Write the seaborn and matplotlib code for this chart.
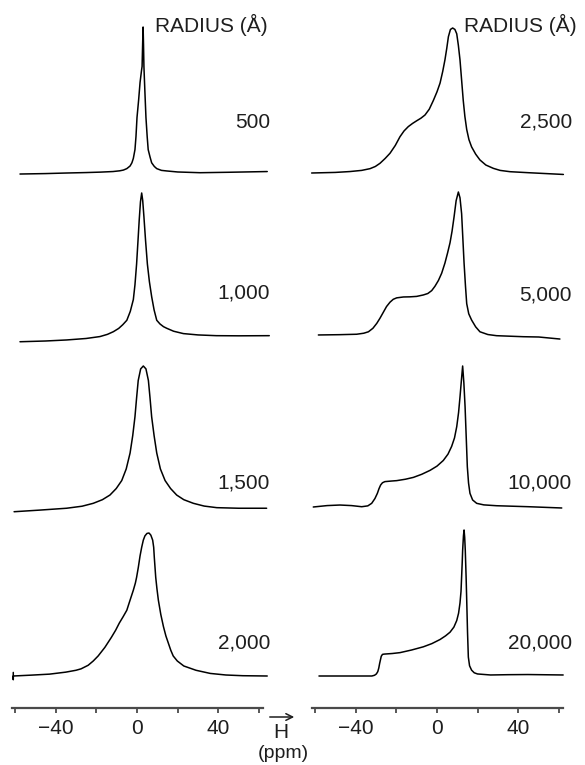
import matplotlib
matplotlib.use("Agg")
import matplotlib.pyplot as plt
from matplotlib.patches import FancyArrowPatch
import seaborn as sns

# --- data (ppm, relative intensity) ---
radius_left = ["500", "1,000", "1,500", "2,000"]
radius_right = ["2,500", "5,000", "10,000", "20,000"]

ppm_500 = [-57.5, -45, -34.4, -25, -18, -11.8, -8.5, -6.7, -5.0, -3.4, -2.5, -1.8, -1.0, -0.5, 0.0, 0.8, 1.5,
           2.2, 2.5, 2.8, 3.0, 3.2, 3.4, 3.9, 4.4, 5.0, 5.5, 6.4, 7.2, 8.5, 9.7, 12, 14.6, 20, 31, 45, 64]
int_500 = [-0.007, -0.004, 0.0, 0.003, 0.006, 0.01, 0.015, 0.02, 0.03, 0.048, 0.07, 0.10, 0.16, 0.25, 0.38, 0.50,
           0.62, 0.70, 0.73, 0.90, 1.0, 0.88, 0.73, 0.55, 0.38, 0.25, 0.16, 0.11, 0.07, 0.045, 0.03, 0.018, 0.014,
           0.007, 0.002, 0.005, 0.01]

ppm_1000 = [-57.5, -45, -34.6, -25, -18.2, -14.5, -11.6, -9, -7, -5.0, -3.3, -1.8, -1.0, -0.2, 0.5, 1.1, 1.7, 2.3,
            2.8, 3.4, 4.2, 5.1, 6.1, 7.2, 8.4, 9.7, 11.3, 13, 14.6, 18, 22.8, 30, 39, 50, 65]
int_1000 = [-0.005, 0.0, 0.007, 0.017, 0.03, 0.045, 0.063, 0.085, 0.11, 0.14, 0.20, 0.28, 0.38, 0.52, 0.68, 0.82,
            0.94, 1.0, 0.95, 0.84, 0.68, 0.52, 0.40, 0.30, 0.21, 0.14, 0.115, 0.097, 0.086, 0.066, 0.05, 0.041,
            0.036, 0.035, 0.036]

ppm_1500 = [-60.4, -48, -34.6, -27, -21.5, -17, -13.3, -10.2, -7.5, -5.3, -3.4, -2.1, -1.0, -0.2, 0.6, 1.8, 3.1,
            4.4, 5.6, 6.4, 7.2, 8.4, 9.7, 11.5, 13.8, 16.5, 19.5, 23, 27.7, 33, 39.2, 50, 63.7]
int_1500 = [-0.005, 0.006, 0.019, 0.033, 0.053, 0.078, 0.11, 0.155, 0.21, 0.29, 0.40, 0.52, 0.65, 0.78, 0.90,
            0.98, 1.0, 0.98, 0.90, 0.78, 0.65, 0.52, 0.40, 0.29, 0.21, 0.155, 0.11, 0.078, 0.053, 0.034, 0.023,
            0.019, 0.019]

ppm_2000 = [-60.8, -60.8, -60.8, -52, -43, -35, -30, -27.5, -24, -21.5, -19.1, -15.8, -12.6, -10.5, -8.7, -6.8,
            -5.0, -4.1, -3.3, -1.8, -0.8, -0.2, 0.65, 1.5, 2.3, 3.1, 3.9, 4.9, 5.9, 6.8, 7.7, 8.2, 8.5, 9.2, 9.8,
            10.5, 11.7, 13.0, 14.2, 15.4, 16.6, 17.8, 19.8, 23, 29, 36, 43.7, 52, 64]
int_2000 = [0.025, -0.025, 0.0, 0.006, 0.013, 0.027, 0.04, 0.05, 0.075, 0.105, 0.14, 0.20, 0.27, 0.32, 0.37, 0.415,
            0.46, 0.50, 0.535, 0.60, 0.65, 0.69, 0.76, 0.84, 0.90, 0.95, 0.98, 0.997, 1.0, 0.985, 0.95, 0.90, 0.83,
            0.69, 0.61, 0.53, 0.43, 0.345, 0.28, 0.23, 0.18, 0.14, 0.105, 0.07, 0.04, 0.018, 0.007, 0.002, 0.0]

ppm_2500 = [-61.6, -50, -42.8, -37, -32.9, -30.3, -28.0, -25.5, -23.1, -20.5, -18.2, -16.2, -14.1, -12, -10.0,
            -7.9, -5.9, -3.8, -1.8, 0, 1.5, 2.8, 3.9, 4.8, 5.6, 6.6, 7.7, 8.8, 9.7, 10.5, 11.3, 12.1, 12.9, 13.7,
            14.6, 15.7, 17.0, 19, 21.1, 24, 27.7, 31, 35.9, 45, 62.1]
int_2500 = [0.0, 0.004, 0.01, 0.018, 0.03, 0.045, 0.067, 0.10, 0.136, 0.19, 0.25, 0.29, 0.32, 0.342, 0.36, 0.378,
            0.40, 0.44, 0.50, 0.56, 0.62, 0.70, 0.78, 0.86, 0.94, 0.99, 1.0, 0.99, 0.96, 0.88, 0.78, 0.64, 0.50,
            0.39, 0.30, 0.23, 0.18, 0.13, 0.09, 0.055, 0.032, 0.018, 0.009, 0.002, -0.01]

ppm_5000 = [-58.3, -48, -39.5, -36, -33.7, -31.5, -29.6, -28, -26.4, -24.8, -23.1, -21.5, -19.8, -16.5, -13.3,
            -10, -6.7, -4.5, -2.6, -1, 0.7, 2.3, 3.9, 5.2, 6.4, 7.4, 8.4, 9.4, 10.5, 11.3, 12.1, 12.7, 13.3, 14.0,
            14.6, 15.6, 17.0, 19, 21.1, 25, 29.3, 42.4, 50, 60.4]
int_5000 = [0.014, 0.016, 0.019, 0.026, 0.036, 0.06, 0.094, 0.13, 0.17, 0.21, 0.24, 0.26, 0.27, 0.276, 0.277,
            0.28, 0.29, 0.30, 0.32, 0.35, 0.39, 0.44, 0.51, 0.58, 0.65, 0.73, 0.83, 0.94, 1.0, 0.96, 0.85, 0.68,
            0.51, 0.35, 0.23, 0.16, 0.117, 0.07, 0.036, 0.017, 0.009, 0.002, 0.0, -0.014]

ppm_10000 = [-60.8, -54, -47.7, -42, -37.0, -34, -32.1, -30.5, -29.3, -28.5, -27.7, -26.8, -25.6, -22.5, -19.8,
             -15.5, -11.6, -7.5, -3.4, 0, 3.1, 5.4, 7.2, 8.6, 9.7, 10.6, 11.3, 12.0, 12.6, 13.2, 13.8, 14.4, 14.9,
             15.5, 16.2, 17.5, 19.5, 23, 29.3, 45, 61.3]
int_10000 = [0.0, 0.01, 0.014, 0.01, 0.002, 0.008, 0.026, 0.06, 0.097, 0.13, 0.156, 0.172, 0.18, 0.184, 0.187,
             0.197, 0.21, 0.232, 0.26, 0.29, 0.33, 0.375, 0.43, 0.49, 0.57, 0.67, 0.78, 0.90, 1.0, 0.88, 0.71,
             0.48, 0.286, 0.17, 0.097, 0.05, 0.026, 0.015, 0.009, 0.002, -0.007]

ppm_20000 = [-58.0, -45, -32.0, -30.7, -29.8, -29.1, -28.6, -28.2, -27.8, -27.4, -26.8, -26.0, -22, -18.2, -12.5,
             -6.7, -2.5, 1.5, 4.2, 6.4, 8.3, 9.7, 10.6, 11.3, 11.8, 12.1, 12.4, 12.6, 13.0, 13.3, 13.6, 13.9, 14.3,
             14.6, 15.0, 15.4, 16.0, 17.0, 18.3, 19.9, 26.3, 35, 44.7, 62.0]
int_20000 = [0.0, 0.0, 0.0, 0.005, 0.014, 0.03, 0.055, 0.085, 0.11, 0.135, 0.148, 0.15, 0.154, 0.16, 0.178, 0.20,
             0.222, 0.25, 0.275, 0.30, 0.335, 0.38, 0.43, 0.50, 0.58, 0.68, 0.78, 0.86, 0.96, 1.0, 0.95, 0.86, 0.68,
             0.52, 0.30, 0.13, 0.07, 0.04, 0.022, 0.014, 0.007, 0.009, 0.01, 0.007]

tick_values = [-60, -40, -20, 0, 20, 40, 60]
tick_labels = ["", "\u221240", "", "0", "", "40", ""]

# --- layout (pixels of the 585x765 picture) ---
W, H = 585, 765
XLIM = (-61.5, 62.0)
PX_PER_PPM = 2.035
ZERO_X = {"left": 137, "right": 437}
# (baseline y, top y) of each spectrum row
ROWS_LEFT = [(173, 27), (341, 193), (511, 366), (676, 533)]
ROWS_RIGHT = [(173, 28), (337, 192), (507, 366), (676, 530)]
LABEL_Y_LEFT = [122, 293, 483, 643]
LABEL_Y_RIGHT = [122, 295, 483, 643]
AXIS_Y = 708
FONT = 15
INK = "#1e1e1e"


def fx(px):
    return px / W


def fy(py):
    return 1 - py / H


def col_extent(col):
    x0 = ZERO_X[col] + XLIM[0] * PX_PER_PPM
    x1 = ZERO_X[col] + XLIM[1] * PX_PER_PPM
    return x0, x1


def draw_spectrum(fig, col, row, ppm, inten):
    x0, x1 = col_extent(col)
    y_base, y_top = row
    ax = fig.add_axes([fx(x0), fy(y_base), (x1 - x0) / W, (y_base - y_top) / H])
    sns.lineplot(x=ppm, y=inten, ax=ax, color="black", linewidth=1.1,
                 estimator=None, sort=False)
    for ln in ax.lines:
        ln.set_clip_on(False)
        ln.set_solid_joinstyle("round")
    ax.set_xlim(*XLIM)
    ax.set_ylim(0, 1)
    ax.axis("off")
    return ax


def draw_scale(fig, col):
    x0, x1 = col_extent(col)
    ax = fig.add_axes([fx(x0), fy(AXIS_Y), (x1 - x0) / W, 0.0005])
    ax.set_xlim(*XLIM)
    ax.set_yticks([])
    for side in ["top", "left", "right"]:
        ax.spines[side].set_visible(False)
    ax.spines["bottom"].set_color("#4a4a4a")
    ax.spines["bottom"].set_linewidth(1.6)
    ax.set_xticks(tick_values)
    ax.set_xticklabels(tick_labels)
    ax.tick_params(axis="x", bottom=True, direction="out", length=3.8, width=1.3,
                   color="#4a4a4a", pad=4, labelsize=FONT, labelcolor=INK)
    ax.set_facecolor("none")
    return ax


def main():
    sns.set_theme(style="white")
    plt.rcParams["font.family"] = ["Liberation Sans", "DejaVu Sans"]

    fig = plt.figure(figsize=(W / 100, H / 100), dpi=100)

    left_data = [(ppm_500, int_500), (ppm_1000, int_1000), (ppm_1500, int_1500), (ppm_2000, int_2000)]
    right_data = [(ppm_2500, int_2500), (ppm_5000, int_5000), (ppm_10000, int_10000), (ppm_20000, int_20000)]

    for row, (p, i) in zip(ROWS_LEFT, left_data):
        draw_spectrum(fig, "left", row, p, i)
    for row, (p, i) in zip(ROWS_RIGHT, right_data):
        draw_spectrum(fig, "right", row, p, i)

    txt = dict(fontsize=FONT, color=INK, va="center", ha="right")
    fig.text(fx(268), fy(25), "RADIUS (\u00c5)", **txt)
    fig.text(fx(577), fy(25), "RADIUS (\u00c5)", **txt)
    for lab, y in zip(radius_left, LABEL_Y_LEFT):
        fig.text(fx(270), fy(y), lab, **txt)
    for lab, y in zip(radius_right, LABEL_Y_RIGHT):
        fig.text(fx(572), fy(y), lab, **txt)

    draw_scale(fig, "left")
    draw_scale(fig, "right")

    # field direction arrow over H, with the unit below
    fig.patches.append(FancyArrowPatch(
        (fx(267), fy(717)), (fx(297), fy(717)), transform=fig.transFigure,
        arrowstyle="->", mutation_scale=12, linewidth=1.1, color=INK))
    fig.text(fx(281), fy(732), "H", fontsize=FONT, color=INK, ha="center", va="center")
    fig.text(fx(283), fy(754), "(ppm)", fontsize=14, color=INK, ha="center", va="center")

    fig.savefig("out.png", dpi=100)
    plt.close(fig)


if __name__ == "__main__":
    main()
